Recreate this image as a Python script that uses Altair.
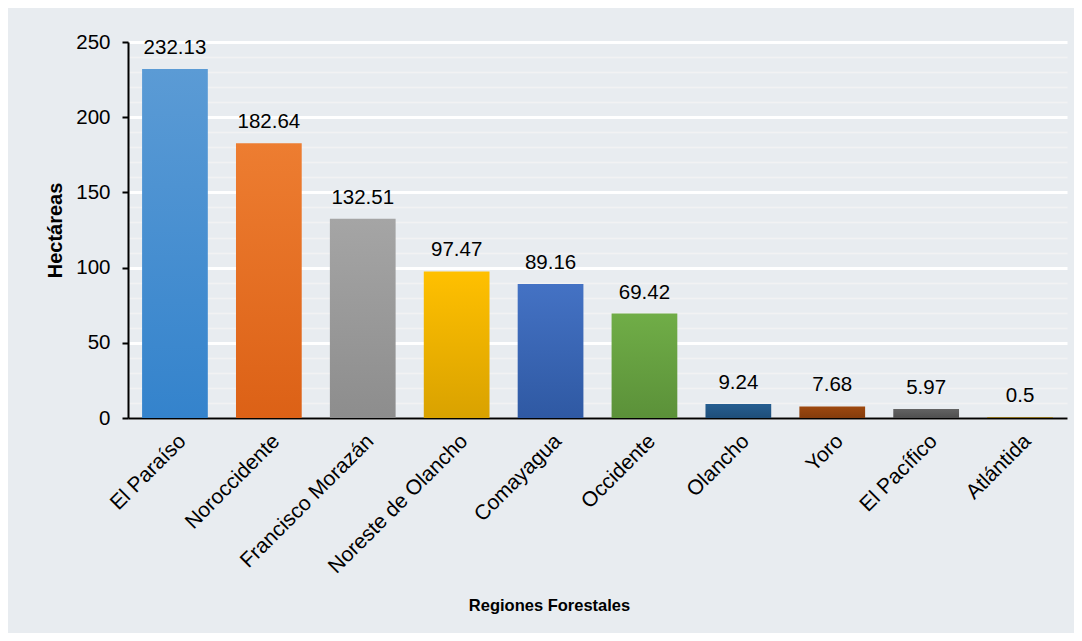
import altair as alt
import pandas as pd

regiones = ["El Paraíso", "Noroccidente", "Francisco Morazán", "Noreste de Olancho",
            "Comayagua", "Occidente", "Olancho", "Yoro", "El Pacífico", "Atlántida"]
hectareas = [232.13, 182.64, 132.51, 97.47, 89.16, 69.42, 9.24, 7.68, 5.97, 0.5]
etiquetas = ["232.13", "182.64", "132.51", "97.47", "89.16", "69.42", "9.24", "7.68", "5.97", "0.5"]
color_top = ["#5b9bd5", "#ed7d31", "#a5a5a5", "#ffc000", "#4472c4", "#70ad47",
             "#255e91", "#9e480e", "#636363", "#997300"]
color_bot = ["#3483cc", "#dc6116", "#8d8d8d", "#d9a200", "#2f59a3", "#5b9139",
             "#1f4e79", "#843c0c", "#4f4f4f", "#806000"]
y_ticks = list(range(0, 251, 10))

df = pd.DataFrame({"region": regiones, "ha": hectareas, "label": etiquetas})

FONT = "Liberation Sans"

xenc = alt.X("region:N", sort=regiones,
             scale=alt.Scale(domain=regiones, paddingInner=0.3, paddingOuter=0.15),
             axis=alt.Axis(title="Regiones Forestales", labelAngle=-45, labelAlign="right",
                           labelBaseline="top", labelPadding=12, labelFontSize=21,
                           labelLimit=400,
                           labelColor="#000000", labelFont=FONT, ticks=False,
                           domainColor="#000000", domainWidth=2,
                           titleFont=FONT, titleFontSize=16.5, titleFontWeight="bold",
                           titleColor="#000000", titleX=421, titleY=187,
                           titleAlign="center", titleBaseline="middle"))

yenc = alt.Y("ha:Q",
             scale=alt.Scale(domain=[0, 250], nice=False),
             axis=alt.Axis(title="Hectáreas", values=y_ticks,
                           labelExpr="datum.value % 50 === 0 ? datum.label : ''",
                           labelFontSize=20.5, labelFont=FONT, labelColor="#000000",
                           labelPadding=12,
                           tickSize=6, tickWidth=2, tickColor="#000000",
                           tickOpacity={"condition": {"test": "datum.value % 50 === 0", "value": 1}, "value": 0},
                           gridColor={"condition": {"test": "datum.value % 50 === 0", "value": "#ffffff"}, "value": "#f2f2f3"},
                           gridWidth={"condition": {"test": "datum.value % 50 === 0", "value": 3}, "value": 1.5},
                           domainColor="#000000", domainWidth=2,
                           titleFont=FONT, titleFontSize=20, titleFontWeight="bold",
                           titleColor="#000000", titleX=-73, titleY=188,
                           titleAlign="center", titleBaseline="middle"))

layers = []
for i, r in enumerate(regiones):
    grad = alt.Gradient(gradient="linear",
                        stops=[alt.GradientStop(color=color_top[i], offset=0),
                               alt.GradientStop(color=color_bot[i], offset=1)],
                        x1=0, x2=0, y1=0, y2=1)
    layers.append(
        alt.Chart(df).transform_filter(alt.datum.region == r)
        .mark_bar(color=grad).encode(x=xenc, y=yenc)
    )

text = alt.Chart(df).mark_text(font=FONT, fontSize=20.5, color="#000000", dy=-15,
                               baseline="alphabetic").encode(
    x=xenc, y=yenc, text="label:N")

chart = alt.layer(*layers, text).properties(
    width=939, height=376,
    autosize=alt.AutoSizeParams(type="none"),
    padding={"left": 120, "top": 34, "right": 7, "bottom": 215},
    background="#e8ecf0",
).configure_view(stroke=None)

chart.save("out.html", embed_options={"renderer": "svg", "actions": False})
